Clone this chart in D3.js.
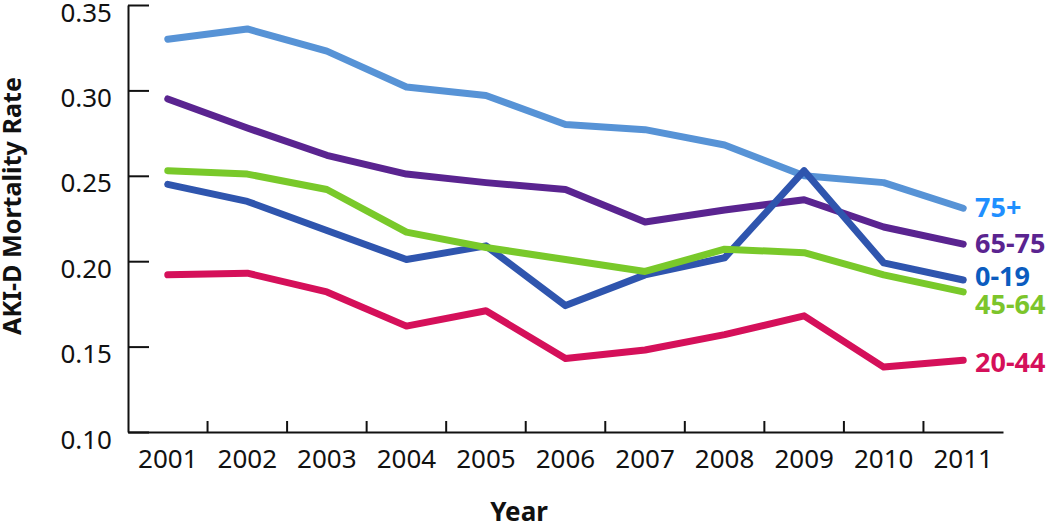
<!DOCTYPE html>
<html>
<head>
<meta charset="utf-8">
<script src="https://cdn.jsdelivr.net/npm/d3@7/dist/d3.min.js"></script>
<style>
  html, body { margin: 0; padding: 0; background: #fff; }
  svg { display: block; font-family: "Noto Sans", "Open Sans", sans-serif; }
</style>
</head>
<body>
<svg id="chart" width="1050" height="524"></svg>
<script>
const years = ["2001","2002","2003","2004","2005","2006","2007","2008","2009","2010","2011"];
const yTicks = [0.10, 0.15, 0.20, 0.25, 0.30, 0.35];

const seriesNames = ["75+", "65-75", "0-19", "45-64", "20-44"];
const v75plus = [0.330, 0.336, 0.323, 0.302, 0.297, 0.280, 0.277, 0.268, 0.250, 0.246, 0.231];
const v65to75 = [0.295, 0.278, 0.262, 0.251, 0.246, 0.242, 0.223, 0.230, 0.236, 0.220, 0.210];
const v0to19  = [0.245, 0.235, 0.218, 0.201, 0.209, 0.174, 0.192, 0.202, 0.253, 0.199, 0.189];
const v45to64 = [0.253, 0.251, 0.242, 0.217, 0.208, 0.201, 0.194, 0.207, 0.205, 0.192, 0.182];
const v20to44 = [0.192, 0.193, 0.182, 0.162, 0.171, 0.143, 0.148, 0.157, 0.168, 0.138, 0.142];
const seriesValues = [v75plus, v65to75, v0to19, v45to64, v20to44];
const lineColors  = ["#5793d6", "#5a2490", "#2f55ae", "#79c92a", "#d5105a"];
const labelColors = ["#1f8fff", "#5a2490", "#0b5cbf", "#7cc52b", "#d5105a"];
const labelNudge  = [-1, -1, -4, 12, 2];

const svg = d3.select("#chart");
const x = d3.scaleBand().domain(years).range([128, 1003]).padding(0);
const y = d3.scaleLinear().domain([0.10, 0.35]).range([432, 5]);
const bw = x.bandwidth();

// Y axis
const yAxis = d3.axisLeft(y).tickValues(yTicks).tickFormat(d3.format(".2f"))
  .tickSizeInner(-21).tickSizeOuter(0).tickPadding(16);
const gy = svg.append("g").attr("transform", "translate(128,0)").call(yAxis);
gy.selectAll("path.domain").attr("stroke", "#111").attr("stroke-width", 2);
gy.selectAll(".tick line").attr("stroke", "#111").attr("stroke-width", 2);
gy.selectAll(".tick text").attr("font-size", 26).attr("fill", "#111")
  .attr("font-family", "'Noto Sans', sans-serif").attr("dy", "16px");

// X axis
const xAxis = d3.axisBottom(x).tickSize(0).tickPadding(18);
const gx = svg.append("g").attr("transform", "translate(0,432)").call(xAxis);
gx.selectAll("path.domain").attr("stroke", "#111").attr("stroke-width", 2);
gx.selectAll(".tick text").attr("font-size", 26).attr("fill", "#111")
  .attr("font-family", "'Noto Sans', sans-serif");
gx.selectAll("line.bnd").data(years.slice(1)).enter().append("line")
  .attr("class", "bnd")
  .attr("x1", d => x(d)).attr("x2", d => x(d))
  .attr("y1", 0).attr("y2", -11)
  .attr("stroke", "#111").attr("stroke-width", 2);

// Lines
const line = d3.line().x((d, i) => x(years[i]) + bw / 2).y(d => y(d));
svg.append("g").selectAll("path").data(seriesValues).enter().append("path")
  .attr("d", line)
  .attr("fill", "none")
  .attr("stroke", (d, i) => lineColors[i])
  .attr("stroke-width", 7)
  .attr("stroke-linejoin", "round")
  .attr("stroke-linecap", "round");

// Series labels
svg.append("g").selectAll("text").data(seriesNames).enter().append("text")
  .attr("x", 975)
  .attr("y", (d, i) => y(seriesValues[i][seriesValues[i].length - 1]) + labelNudge[i])
  .attr("dy", "0.36em")
  .attr("font-size", 27).attr("font-weight", "bold")
  .attr("fill", (d, i) => labelColors[i])
  .text(d => d);

// Axis titles
const yt = svg.append("text")
  .attr("transform", "translate(21,206) rotate(-90)")
  .attr("text-anchor", "middle")
  .attr("font-size", 26).attr("font-weight", "bold").attr("fill", "#111")
  .text("AKI-D Mortality Rate");
const len = yt.node().getComputedTextLength();
yt.attr("font-size", 26 * 258 / len);

svg.append("text")
  .attr("x", 519).attr("y", 521)
  .attr("text-anchor", "middle")
  .attr("font-size", 26).attr("font-weight", "bold").attr("fill", "#111")
  .text("Year");
</script>
</body>
</html>
